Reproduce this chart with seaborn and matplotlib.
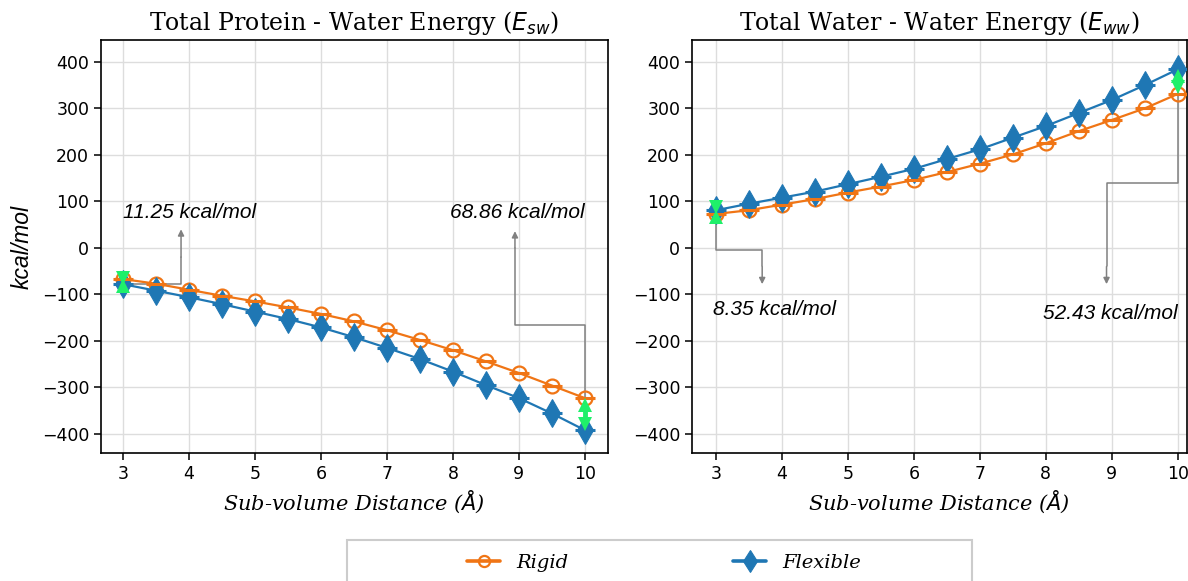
import numpy as np
import pandas as pd
import matplotlib
matplotlib.use("Agg")
import matplotlib.pyplot as plt
import matplotlib.transforms as mtransforms
import seaborn as sns
from matplotlib.patches import Rectangle

# ---- data ----
distance = [3.0, 3.5, 4.0, 4.5, 5.0, 5.5, 6.0, 6.5, 7.0, 7.5, 8.0, 8.5, 9.0, 9.5, 10.0]
esw_rigid = [-67, -77, -90, -103, -115, -128, -142, -158, -177, -198, -220, -244, -269, -296, -323]
esw_flex = [-78, -92, -106, -121, -137, -153, -171, -192, -215, -239, -266, -295, -323, -356, -392]
eww_rigid = [73, 81, 93, 105, 119, 132, 146, 163, 181, 201, 225, 251, 275, 300, 331]
eww_flex = [81, 95, 108, 121, 137, 153, 170, 191, 212, 237, 262, 290, 318, 350, 384]
x_err = 0.15
titles = ["Total Protein - Water Energy ($E_{sw}$)", "Total Water - Water Energy ($E_{ww}$)"]
diff_labels = [["11.25 kcal/mol", "68.86 kcal/mol"], ["8.35 kcal/mol", "52.43 kcal/mol"]]
series_names = ["Rigid", "Flexible"]

sns.set_style("ticks")
plt.rcParams["font.family"] = ["DejaVu Sans"]
for k in ["text.color", "axes.labelcolor", "xtick.color", "ytick.color"]:
    plt.rcParams[k] = "black"

ORANGE = "#f07515"
BLUE = "#1f77b4"
GREEN = "#1ff06a"
GRAY = "#808080"

fig = plt.figure(figsize=(11.88, 5.81), dpi=100)
ax1 = fig.add_axes([101/1188, 1-453/581, 507/1188, 413/581])
ax2 = fig.add_axes([692/1188, 1-453/581, 495/1188, 413/581])

HEAD = 9.5  # arrow head size (points)


def green_arrow(ax, x, a, b):
    lo, hi = min(a, b), max(a, b)
    px_per_unit = ax.bbox.height / (ax.get_ylim()[1] - ax.get_ylim()[0])
    head_units = HEAD * fig.dpi / 72 / px_per_unit
    if hi - lo > 2 * head_units * 0.8:
        ax.plot([x, x], [lo + head_units * 0.8, hi - head_units * 0.8], color=GREEN, lw=3.5,
                solid_capstyle="butt", zorder=6)
    up = mtransforms.offset_copy(ax.transData, fig=fig, y=-HEAD / 2, units="points")
    dn = mtransforms.offset_copy(ax.transData, fig=fig, y=HEAD / 2, units="points")
    ax.plot([x], [hi], marker="^", ms=HEAD, color=GREEN, mew=0, transform=up, zorder=6)
    ax.plot([x], [lo], marker="v", ms=HEAD, color=GREEN, mew=0, transform=dn, zorder=6)


panels = [(ax1, esw_rigid, esw_flex), (ax2, eww_rigid, eww_flex)]
for i, (ax, rig, flx) in enumerate(panels):
    df = pd.DataFrame({"d": distance, "rigid": rig, "flex": flx})
    sns.lineplot(data=df, x="d", y="rigid", ax=ax, color=ORANGE, marker="o", markersize=10,
                 markerfacecolor="none", markeredgecolor=ORANGE, markeredgewidth=1.6,
                 linewidth=1.6, label=series_names[0], zorder=3)
    sns.lineplot(data=df, x="d", y="flex", ax=ax, color=BLUE, marker="d", markersize=14,
                 markerfacecolor=BLUE, markeredgecolor=BLUE, linewidth=1.6,
                 label=series_names[1], zorder=3)
    ax.errorbar(df["d"], df["rigid"], xerr=x_err, fmt="none", ecolor=ORANGE, elinewidth=2.2, zorder=4)
    ax.errorbar(df["d"], df["flex"], xerr=x_err, fmt="none", ecolor=BLUE, elinewidth=2.2, zorder=4)
    ax.set_ylim(-441, 447)
    ax.set_xticks(range(3, 11))
    ax.set_yticks(range(-400, 401, 100))
    ax.grid(True, color="#dddddd", lw=1)
    ax.set_axisbelow(True)
    for s in ax.spines.values():
        s.set_color("black")
        s.set_linewidth(1.2)
    ax.tick_params(labelsize=12.5, length=5, width=1.1, color="black")
    ax.set_title(titles[i], fontsize=17, family="DejaVu Serif", pad=7)
    ax.set_xlabel("Sub-volume Distance ($\\AA$)", fontsize=15, family="DejaVu Serif", style="italic")
    ax.set_ylabel("")
    ax.get_legend().remove()

ax1.set_xlim(2.667, 10.35)
ax2.set_xlim(2.636, 10.14)

for ax, rig, flx in panels:
    for j in (0, -1):
        green_arrow(ax, distance[j], rig[j], flx[j])

ax1.set_ylabel("kcal/mol", fontsize=16.5, family="Liberation Sans", style="italic", labelpad=6)

ann_kw = dict(fontsize=15, family="Liberation Sans", style="italic")
arrow_kw = dict(arrowstyle="-|>", color=GRAY, lw=1.1, mutation_scale=9, shrinkA=0, shrinkB=0)

# left panel annotations
ax1.plot([3.0, 3.88, 3.88], [esw_flex[0], esw_flex[0], -20], color=GRAY, lw=1.1, zorder=1)
ax1.annotate("", xy=(3.88, 40), xytext=(3.88, -20), arrowprops=arrow_kw)
ax1.text(3.0, 77, diff_labels[0][0], ha="left", va="center", **ann_kw)
ax1.plot([10.0, 10.0, 8.94, 8.94], [-345, -166, -166, 0], color=GRAY, lw=1.1, zorder=1)
ax1.annotate("", xy=(8.94, 36), xytext=(8.94, 0), arrowprops=arrow_kw)
ax1.text(10.0, 77, diff_labels[0][1], ha="right", va="center", **ann_kw)

# right panel annotations
ax2.plot([3.0, 3.0, 3.7, 3.7], [eww_rigid[0], -4, -4, -40], color=GRAY, lw=1.1, zorder=1)
ax2.annotate("", xy=(3.7, -78), xytext=(3.7, -40), arrowprops=arrow_kw)
ax2.text(2.95, -133, diff_labels[1][0], ha="left", va="center", **ann_kw)
ax2.plot([10.0, 10.0, 8.92, 8.92], [350, 140, 140, -40], color=GRAY, lw=1.1, zorder=1)
ax2.annotate("", xy=(8.92, -78), xytext=(8.92, -40), arrowprops=arrow_kw)
ax2.text(10.0, -142, diff_labels[1][1], ha="right", va="center", **ann_kw)

# legend
handles, labels = ax1.get_legend_handles_labels()
for h in handles:
    h.set_linewidth(2.6)
fig.legend(handles, labels, loc="center", bbox_to_anchor=(664/1188, 1-563/581), ncol=2,
           frameon=False, handlelength=1.7, columnspacing=8.5, markerscale=0.8,
           prop=dict(family="DejaVu Serif", style="italic", size=14))
for h in handles:
    h.set_linewidth(1.6)
fig.add_artist(Rectangle((347/1188, -0.05), 625/1188, 0.05 + (581-540)/581,
                         transform=fig.transFigure, fill=False, edgecolor="#cccccc", lw=1.5))

fig.savefig("out.png", dpi=100)
